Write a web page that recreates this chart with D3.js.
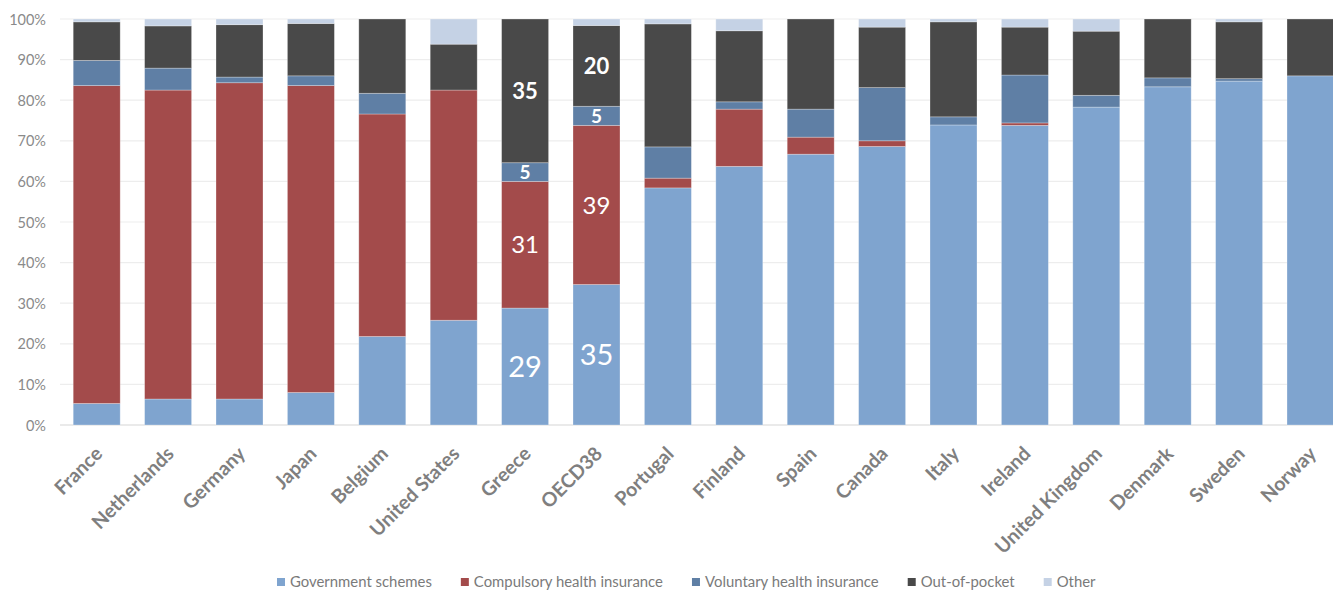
<!DOCTYPE html>
<html>
<head>
<meta charset="utf-8">
<script src="https://cdn.jsdelivr.net/npm/d3@7"></script>
<style>
  html, body { margin: 0; padding: 0; background: #fff; }
  svg { display: block; }
</style>
</head>
<body>
<svg id="chart" width="1333" height="591"></svg>
<script>
// ---- data (percent of health expenditure by financing scheme) ----
const countries = ["France","Netherlands","Germany","Japan","Belgium","United States","Greece","OECD38","Portugal","Finland","Spain","Canada","Italy","Ireland","United Kingdom","Denmark","Sweden","Norway"];
const seriesNames = ["Government schemes","Compulsory health insurance","Voluntary health insurance","Out-of-pocket","Other"];
const government = [5.3, 6.4, 6.4, 8.0, 21.8, 25.8, 28.8, 34.6, 58.4, 63.7, 66.7, 68.6, 73.9, 73.8, 78.3, 83.3, 84.7, 86.0];
const compulsory = [78.3, 76.1, 77.9, 75.6, 54.8, 56.7, 31.2, 39.2, 2.4, 14.1, 4.2, 1.4, 0.0, 0.6, 0.0, 0.0, 0.0, 0.0];
const voluntary  = [6.2, 5.4, 1.4, 2.4, 5.1, 0.0, 4.6, 4.7, 7.7, 1.8, 6.9, 13.1, 2.0, 11.8, 2.9, 2.2, 0.6, 0.0];
const outOfPocket= [9.5, 10.4, 12.9, 12.9, 18.3, 11.3, 35.4, 19.9, 30.3, 17.5, 22.2, 14.9, 23.4, 11.8, 15.8, 14.5, 14.0, 14.0];
const other      = [0.7, 1.7, 1.4, 1.1, 0.0, 6.2, 0.0, 1.6, 1.2, 2.9, 0.0, 2.0, 0.7, 2.0, 3.0, 0.0, 0.7, 0.0];
const yTicks = [0,10,20,30,40,50,60,70,80,90,100];
const labelledCountries = ["Greece","OECD38"];

const colors = ["#7fa4cf","#a34b4b","#5f7fa5","#494949","#c5d2e5"];
const seriesKeys = ["government","compulsory","voluntary","outOfPocket","other"];
const seriesArrays = [government, compulsory, voluntary, outOfPocket, other];

const table = countries.map((c,i) => {
  const o = {country: c};
  seriesKeys.forEach((k,j) => o[k] = seriesArrays[j][i]);
  return o;
});

const svg = d3.select("#chart");
const font = "Lato, 'Open Sans', sans-serif";

const left = 61, step = 71.4;
const x = d3.scaleBand().domain(countries)
  .range([left, left + step * countries.length])
  .paddingInner(0.342).paddingOuter(0.171);
const y = d3.scaleLinear().domain([0,100]).range([425, 19]);

// gridlines
svg.append("g").selectAll("line").data(yTicks).join("line")
  .attr("x1", 60).attr("x2", 1333)
  .attr("y1", d => y(d)).attr("y2", d => y(d))
  .attr("stroke", d => d === 0 ? "#d6d6d6" : "#ededed")
  .attr("stroke-width", 1.2);

// y axis labels
const yAxis = d3.axisLeft(y).tickValues(yTicks).tickFormat(d => d + "%").tickSize(0).tickPadding(0);
const yg = svg.append("g").attr("transform", "translate(46,0)").call(yAxis);
yg.select(".domain").remove();
yg.selectAll("text").attr("font-family", font).attr("font-size", 14.5).attr("fill", "#8a8a8a").attr("dy", "0.35em");

// stacked bars
const stack = d3.stack().keys(seriesKeys);
const stacked = stack(table);
const layers = svg.append("g").selectAll("g").data(stacked).join("g")
  .attr("fill", (d,i) => colors[i]);
layers.selectAll("rect").data(d => d).join("rect")
  .attr("x", d => x(d.data.country))
  .attr("width", x.bandwidth())
  .attr("y", d => y(d[1]))
  .attr("height", d => Math.max(0, y(d[0]) - y(d[1])))
  .attr("stroke", "#ffffff").attr("stroke-opacity", 0.35).attr("stroke-width", 0.8);

// data labels for Greece and OECD38
const labelStyle = [
  {size: 29, weight: 400},
  {size: 24, weight: 400},
  {size: 19, weight: 700},
  {size: 22, weight: 700}
];
stacked.forEach((layer, i) => {
  if (i > 3) return;
  layer.filter(d => labelledCountries.includes(d.data.country)).forEach(d => {
    svg.append("text")
      .attr("x", x(d.data.country) + x.bandwidth()/2)
      .attr("y", y((d[0]+d[1])/2))
      .attr("dy", "0.36em")
      .attr("text-anchor", "middle")
      .attr("font-family", font)
      .attr("font-size", labelStyle[i].size)
      .attr("font-weight", labelStyle[i].weight)
      .attr("fill", "#ffffff")
      .text(Math.round(d[1]-d[0]));
  });
});

// x axis labels
const xg = svg.append("g");
xg.selectAll("text").data(countries).join("text")
  .attr("transform", d => `translate(${x(d) + x.bandwidth()/2 + 7},${455}) rotate(-45)`)
  .attr("text-anchor", "end")
  .attr("font-family", font)
  .attr("font-size", 19.5)
  .attr("font-weight", 700)
  .attr("fill", "#7f7f7f")
  .text(d => d);

// legend
const lg = svg.append("g").attr("transform", "translate(0,582)");
let cx = 277;
seriesNames.forEach((name, i) => {
  const g = lg.append("g").attr("transform", `translate(${cx},0)`);
  g.append("rect").attr("x", 0).attr("y", -4).attr("width", 8).attr("height", 8).attr("fill", colors[i]);
  const t = g.append("text").attr("x", 13).attr("dy", "0.35em")
    .attr("font-family", font).attr("font-size", 14.9).attr("fill", "#7a7a7a").text(name);
  cx += 13 + t.node().getComputedTextLength() + 29;
});
</script>
</body>
</html>
